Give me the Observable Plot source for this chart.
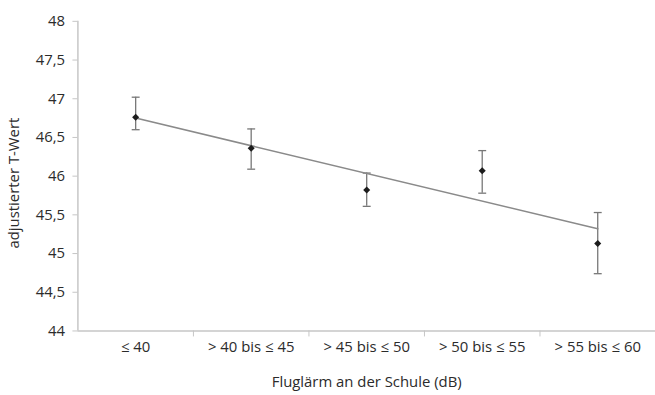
<!DOCTYPE html>
<html>
<head>
<meta charset="utf-8">
<script src="https://cdn.jsdelivr.net/npm/d3@7"></script>
<script src="https://cdn.jsdelivr.net/npm/@observablehq/plot@0.6"></script>
<style>
  html, body { margin: 0; padding: 0; background: #fff; overflow: hidden; }
  #chart { width: 655px; height: 395px; overflow: hidden; }
</style>
</head>
<body>
<div id="chart"></div>
<script>
// Lärmkategorien an der Schule (dB)
const categories = ["≤ 40", "> 40 bis ≤ 45", "> 45 bis ≤ 50", "> 50 bis ≤ 55", "> 55 bis ≤ 60"];
// adjustierte T-Werte (Mittelwert) mit Konfidenzintervall
const means = [46.76, 46.36, 45.82, 46.07, 45.13];
const lower = [46.60, 46.09, 45.61, 45.78, 44.74];
const upper = [47.02, 46.61, 46.04, 46.33, 45.53];
// lineare Trendlinie: Werte an der ersten und letzten Kategorie
const trendCategories = ["≤ 40", "> 55 bis ≤ 60"];
const trendValues = [46.75, 45.32];
// y-Achse
const yTicks = [44, 44.5, 45, 45.5, 46, 46.5, 47, 47.5, 48];
const yTitle = "adjustierter T-Wert";
const xTitle = "Fluglärm an der Schule (dB)";

const pos = c => categories.indexOf(c) + 0.5;
const rows = categories.map((c, i) => ({cat: c, mean: means[i], lo: lower[i], hi: upper[i]}));
const trend = trendCategories.map((c, i) => ({cat: c, value: trendValues[i]}));

// horizontale Endstriche der Fehlerbalken
const capSymbol = {
  draw(context, size) {
    const w = Math.sqrt(size / Math.PI);
    context.moveTo(-w, 0);
    context.lineTo(w, 0);
  }
};

const axisGray = "#c6c6c6";
const barGray = "#777";
const textColor = "#2b2b2b";

const chart = Plot.plot({
  width: 660,
  height: 395,
  marginLeft: 78,
  marginRight: 0,
  marginTop: 21,
  marginBottom: 62,
  style: {fontFamily: "'Open Sans', sans-serif", fontSize: "15px", color: textColor, background: "#fff"},
  x: {domain: [0, categories.length]},
  y: {domain: [44, 48]},
  marks: [
    Plot.ruleY([44], {stroke: axisGray, strokeWidth: 1.5}),
    Plot.ruleX([0], {stroke: axisGray, strokeWidth: 1.5}),
    Plot.axisY({
      ticks: yTicks,
      tickFormat: d => String(d).replace(".", ","),
      tickSize: 5,
      tickPadding: 8,
      stroke: axisGray,
      fill: textColor,
      label: null
    }),
    // Achsentitel links, gedreht
    Plot.text([yTitle], {frameAnchor: "left", text: d => d, rotate: -90, textAnchor: "middle", lineAnchor: "middle", dx: -64, dy: 7, fill: textColor}),
    // Trennstriche zwischen den Kategorien
    Plot.axisX({
      ticks: d3.range(1, categories.length),
      tickFormat: () => "",
      tickSize: 6,
      stroke: axisGray,
      label: null
    }),
    Plot.axisX({
      ticks: categories.map(pos),
      tickFormat: v => categories[Math.floor(v)],
      tickSize: 0,
      tickPadding: 11,
      fill: textColor,
      label: xTitle,
      labelAnchor: "center",
      labelOffset: 56,
      labelArrow: "none"
    }),
    Plot.ruleX(rows, {x: d => pos(d.cat), y1: "lo", y2: "hi", stroke: barGray, strokeWidth: 1.3}),
    Plot.dot(rows, {x: d => pos(d.cat), y: "hi", symbol: capSymbol, r: 4, stroke: barGray, strokeWidth: 1.3}),
    Plot.dot(rows, {x: d => pos(d.cat), y: "lo", symbol: capSymbol, r: 4, stroke: barGray, strokeWidth: 1.3}),
    Plot.line(trend, {x: d => pos(d.cat), y: "value", stroke: "#8a8a8a", strokeWidth: 1.6}),
    Plot.dot(rows, {x: d => pos(d.cat), y: "mean", symbol: "diamond2", r: 3.2, fill: "#1c1c1c", stroke: "none"})
  ]
});

document.getElementById("chart").appendChild(chart);
</script>
</body>
</html>
